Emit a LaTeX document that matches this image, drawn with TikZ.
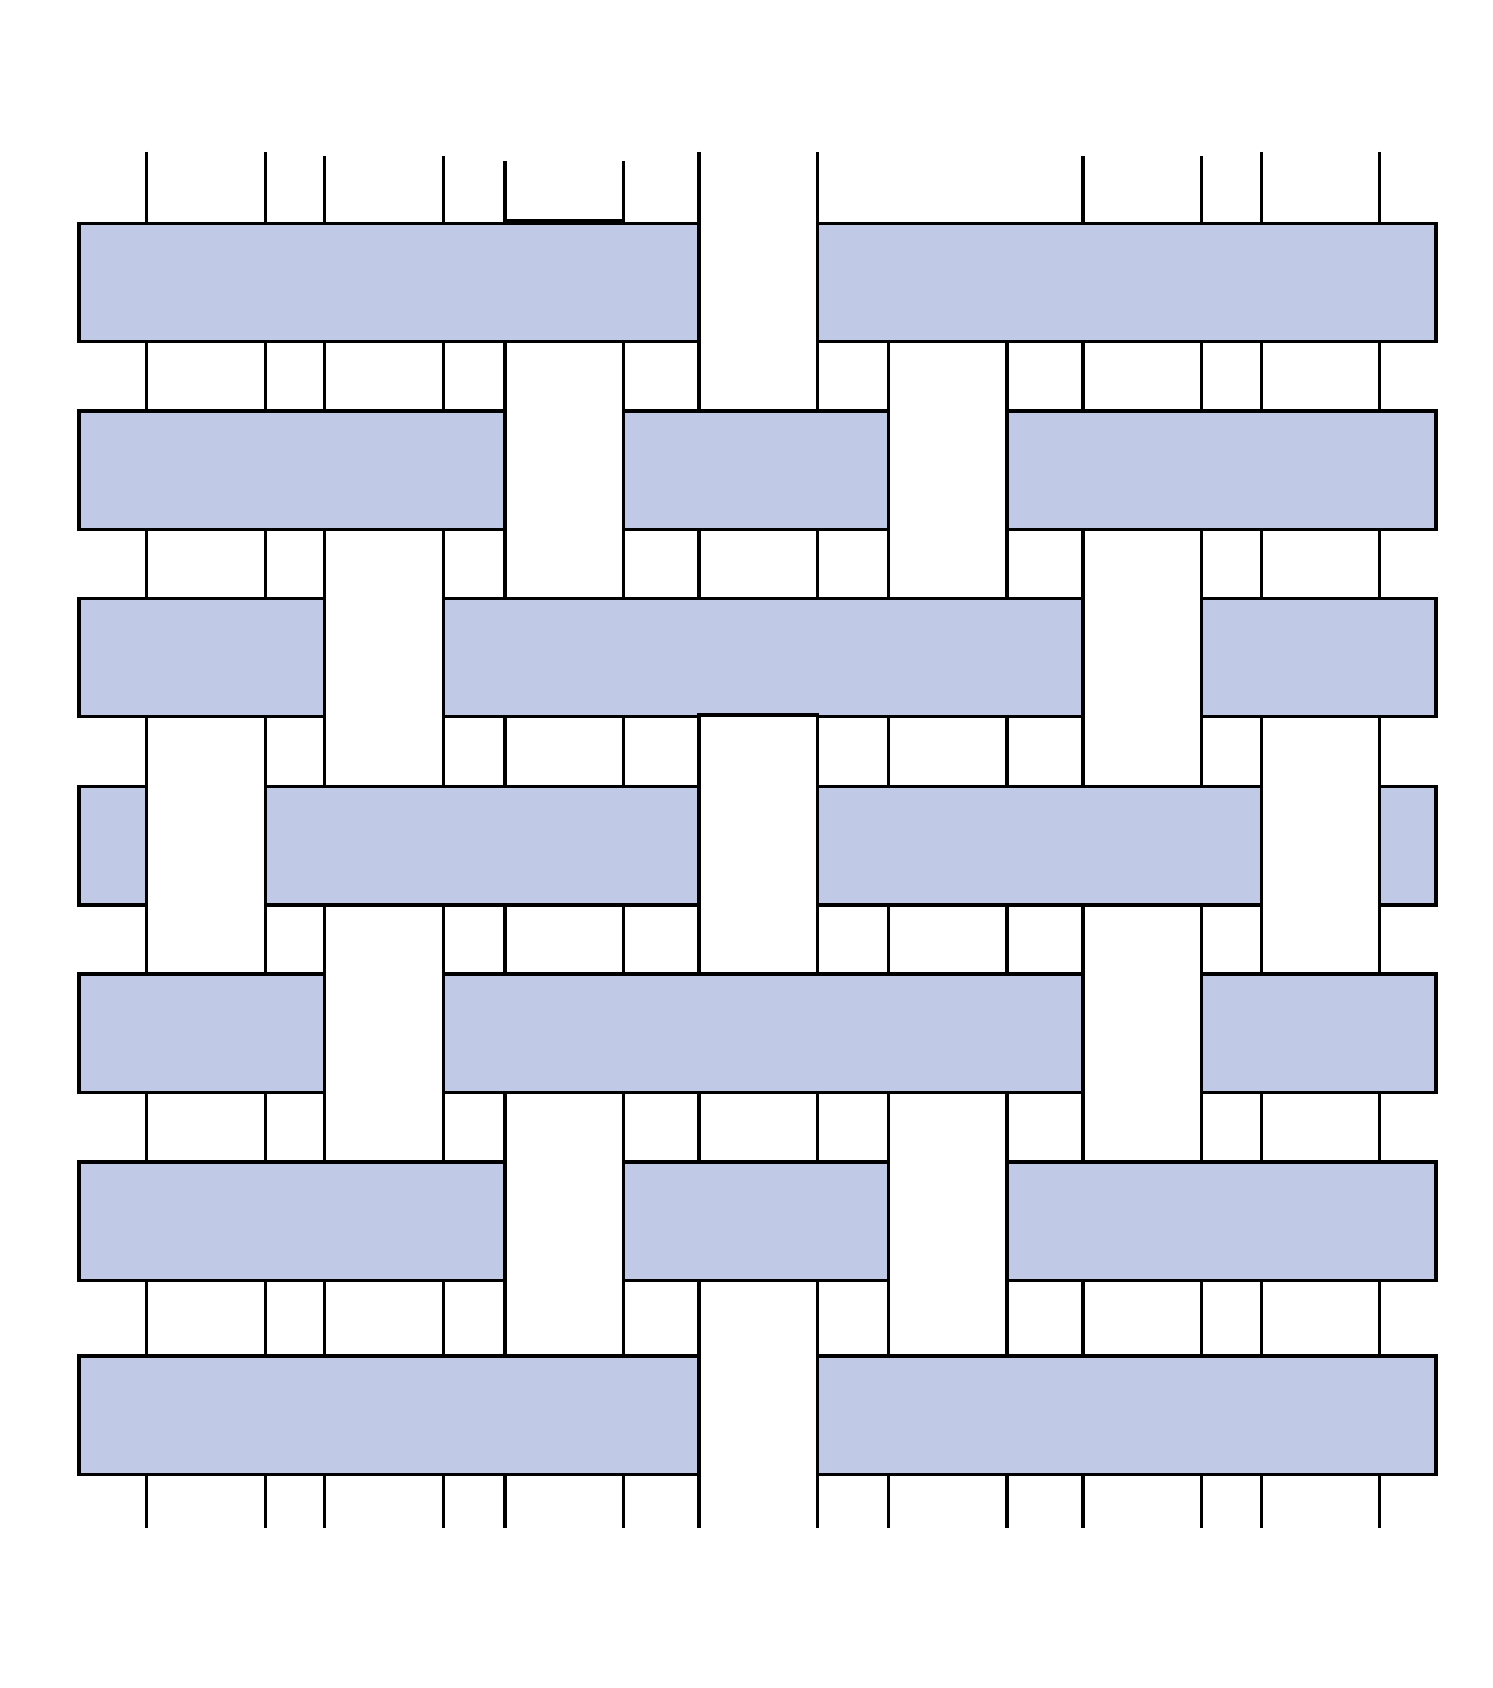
\documentclass[tikz,border=0pt]{standalone}
\usetikzlibrary{calc}
\definecolor{weft}{RGB}{192,201,230}
\tikzset{
  warpline/.style={line width=3.3pt, black},
  weftbar/.style={line width=3.3pt, draw=black, fill=weft},
  overbox/.style={line width=3.3pt, draw=black, fill=white}
}
\begin{document}
\begin{tikzpicture}[x=1pt,y=-1pt]
\useasboundingbox (0,0) rectangle (1492,1688);
% warp positions (left edges), width 118.5
\def\W{118.5}
\def\H{118.5}
\def\BL{79}\def\BR{1436}
\def\Bot{1527.7}
% warp threads: left x / top y
\foreach \L/\t in {146.7/151.7, 324.7/156, 505/161, 699/151.7, 888.5/300, 1083/156, 1261.3/151.7}{
  \draw[warpline] (\L,\t) -- (\L,\Bot);
  \draw[warpline] (\L+\W,\t) -- (\L+\W,\Bot);
}
\draw[warpline] (505,221) -- (623.5,221);
% weft bars: row top / list of segments
% row 1
\foreach \a/\b in {79/699, 817.5/1436}{\draw[weftbar] (\a,223.3) rectangle (\b,223.3+\H);}
% row 2
\foreach \a/\b in {79/505, 623.5/888.5, 1007/1436}{\draw[weftbar] (\a,411) rectangle (\b,411+\H);}
% row 3
\foreach \a/\b in {79/324.7, 443.2/1083, 1201.5/1436}{\draw[weftbar] (\a,598.3) rectangle (\b,598.3+\H);}
% row 4
\foreach \a/\b in {79/146.7, 265.2/699, 817.5/1261.3, 1379.8/1436}{\draw[weftbar] (\a,786.5) rectangle (\b,786.5+\H);}
% row 5
\foreach \a/\b in {79/324.7, 443.2/1083, 1201.5/1436}{\draw[weftbar] (\a,974) rectangle (\b,974+\H);}
% row 6
\foreach \a/\b in {79/505, 623.5/888.5, 1007/1436}{\draw[weftbar] (\a,1162) rectangle (\b,1162+\H);}
% row 7
\foreach \a/\b in {79/699, 817.5/1436}{\draw[weftbar] (\a,1356) rectangle (\b,1356+\H);}
% warp segments lying over the wefts
\foreach \L/\ya/\yb in {505/341.8/598.3, 888.5/341.8/598.3,
                        324.7/529.5/786.5, 1083/529.5/786.5,
                        146.7/716.8/974, 699/715/974, 1261.3/716.8/974,
                        324.7/905/1162, 1083/905/1162,
                        505/1092.5/1356, 888.5/1092.5/1356}{
  \draw[overbox] (\L,\ya) rectangle (\L+\W,\yb);
}
\end{tikzpicture}
\end{document}
